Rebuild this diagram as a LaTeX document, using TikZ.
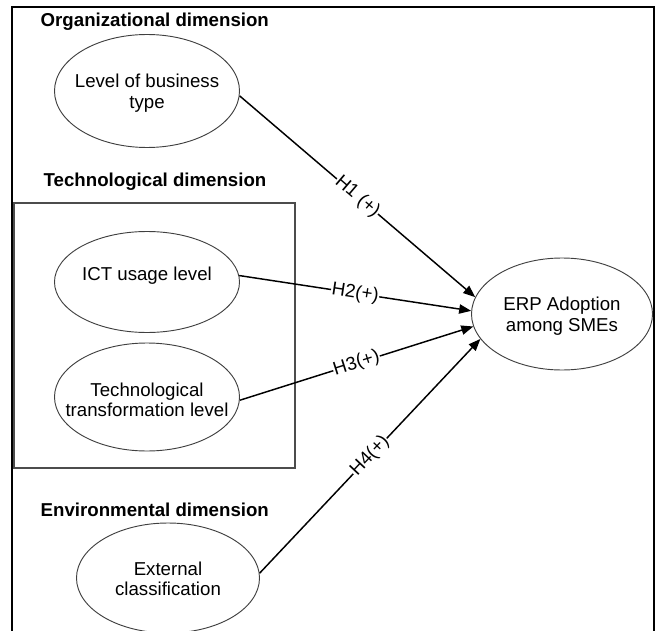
\documentclass[tikz,border=0pt]{standalone}
\usepackage{fontspec}
\setmainfont{Liberation Sans}
\usetikzlibrary{shapes.geometric,arrows.meta}
\newcommand{\ztext}[2][0pt]{\makebox[0pt]{\smash{\raisebox{#1}{\begin{tabular}{@{}c@{}}#2\end{tabular}}}}}
\begin{document}
\begin{tikzpicture}[x=0.75pt,y=-0.75pt,
  every node/.style={font=\fontsize{14}{15.5}\selectfont},
  ell/.style={draw=black!75,line width=0.7pt,ellipse,inner sep=0pt},
  dimtitle/.style={anchor=west,font=\fontsize{14}{16}\selectfont\bfseries},
  hyp/.style={line width=1.1pt,-{Triangle[length=9pt,width=7pt]}},
  hlab/.style={sloped,fill=white,inner sep=0.5pt,midway}]
\useasboundingbox (0,0) rectangle (660,631);
\clip (0,0) rectangle (660,631);
% outer frame (bottom edge is outside the picture)
\draw[line width=1.8pt] (12,7) rectangle (654,650);
% technological box
\draw[draw=black!70,line width=0.8pt] (14,203) rectangle (295,468);
% titles
\node[dimtitle] (t1) at (36,22) {Organizational dimension};
\node[dimtitle] (t2) at (39,182) {Technological dimension};
\node[dimtitle] (t3) at (36,510) {Environmental dimension};
% ellipses
\node[ell,minimum width=138.75pt,minimum height=84.75pt] (e1) at (147,91) {\ztext[-6pt]{Level of business\\type}};
\node[ell,minimum width=138.75pt,minimum height=75.75pt] (e2) at (147,282) {\ztext[0.5pt]{ICT usage level}};
\node[ell,minimum width=138.75pt,minimum height=81pt] (e3) at (147,397) {\ztext[-7.5pt]{Technological\\transformation level}};
\node[ell,minimum width=137.25pt,minimum height=82.5pt] (e4) at (168,578) {\ztext[-6pt]{External\\classification}};
\node[ell,minimum width=135.75pt,minimum height=84pt] (erp) at (562,314) {\ztext[-5.5pt]{ERP Adoption\\among SMEs}};
% hypotheses
\draw[hyp] (e1.-3) -- node[hlab] {H1 (+)} (erp.169);
\draw[hyp] (e2.4) -- node[hlab] {H2(+)} (erp.178);
\draw[hyp] (e3.-2) -- node[hlab] {H3(+)} (erp.188);
\draw[hyp] (e4.3) -- node[hlab] {H4(+)} (erp.197);
\end{tikzpicture}
\end{document}
